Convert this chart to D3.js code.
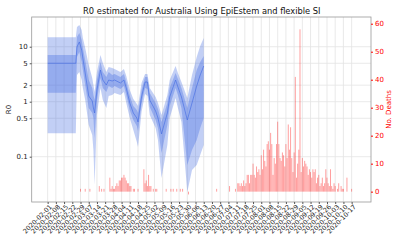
<!DOCTYPE html>
<html lang="en">
<head>
<meta charset="UTF-8">
<title>R0 estimated for Australia</title>
<script src="https://cdn.jsdelivr.net/npm/d3@7"></script>
<style>
  body { margin: 0; background: #fff; }
  text { font-family: "DejaVu Sans", sans-serif; }
</style>
</head>
<body>
<script>

var w = 400, h = 250;
var plotL = 31.7, plotR = 371, plotT = 17, plotB = 202;

// R estimates (median, 50% band, 95% band)
var rDates = ["2020-02-01","2020-02-25","2020-02-26","2020-02-28","2020-03-01","2020-03-02","2020-03-04",
  "2020-03-07","2020-03-10","2020-03-11","2020-03-12","2020-03-14","2020-03-17","2020-03-19","2020-03-22",
  "2020-03-24","2020-03-27","2020-03-29","2020-04-03","2020-04-06","2020-04-08","2020-04-11","2020-04-14",
  "2020-04-17","2020-04-18","2020-04-21","2020-04-24","2020-04-26","2020-04-28","2020-05-03","2020-05-05",
  "2020-05-08","2020-05-13","2020-05-15","2020-05-20","2020-05-22","2020-05-25","2020-05-30","2020-06-03",
  "2020-06-07","2020-06-10","2020-06-13"];
var rMedian = [5.0,5.0,9.9,12.2,8.7,6.2,3.32,1.27,1.03,0.768,0.623,1.63,3.77,2.48,2.01,2.48,2.38,2.48,2.19,2.48,
  1.77,0.947,0.623,0.505,0.428,1.22,2.28,2.28,1.07,0.677,0.505,0.259,0.623,1.22,2.48,1.85,1.22,0.465,0.947,
  1.93,3.06,4.46];
var rHi50 = [7.06,7.06,15.0,17.7,13.2,9.5,5.7,2.48,1.77,1.32,1.07,2.48,5.3,3.47,2.81,3.47,3.06,3.19,2.81,3.19,
  2.28,1.27,0.835,0.706,0.623,1.63,2.81,2.81,1.44,0.947,0.737,0.428,0.947,1.77,3.32,2.59,1.77,0.768,1.77,
  3.77,5.3,6.8];
var rLo50 = [1.46,1.46,6.5,8.0,5.3,3.77,2.01,0.768,0.623,0.505,0.219,1.07,2.70,1.77,1.50,1.93,1.77,1.93,1.70,1.93,
  1.32,0.706,0.465,0.362,0.293,0.908,1.77,1.70,0.80,0.465,0.332,0.117,0.377,0.835,1.77,1.32,0.768,0.0706,0.132,
  0.201,0.332,0.505];
var rHi95 = [14.8,14.8,22.8,24.8,20.1,14.4,9.5,4.65,2.70,2.01,1.50,3.47,7.06,5.05,3.47,4.27,4.1,3.93,3.47,3.93,
  2.93,1.63,1.12,0.908,0.835,2.19,3.19,3.19,1.77,1.22,0.947,0.573,1.32,2.48,4.46,3.32,2.28,1.17,3.06,
  6.5,10.3,14.4];
var rLo95 = [0.266,0.266,3.06,3.47,2.48,1.77,1.07,0.377,0.248,0.132,0.0306,0.573,1.77,1.07,0.768,1.27,1.32,1.44,1.32,1.50,
  0.947,0.505,0.306,0.185,0.150,0.65,1.38,1.27,0.573,0.332,0.201,0.041,0.163,0.505,1.17,0.768,0.428,0.0228,0.0573,
  0.0706,0.107,0.163];

// daily deaths starting 2020-02-29
var deathStart = "2020-02-29";
var deaths = [
  1,0,0,0,1,0,0,0,1,0,
  0,0,0,0,0,0,2,0,1,0,
  1,0,0,0,0,5,1,2,1,1,
  2,3,2,4,4,5,5,6,5,4,
  3,3,2,2,0,1,1,0,0,1,
  0,0,0,0,8,3,4,2,6,2,
  2,0,1,0,1,1,0,0,0,0,
  0,0,0,1,0,0,0,1,0,1,
  0,0,1,0,0,1,0,1,0,0,
  0,0,-1,0,0,0,0,0,0,0,
  0,0,0,0,0,0,0,0,0,0,
  0,0,0,0,0,0,1,0,0,0,
  0,0,0,0,0,0,0,2,0,0,
  0,0,1,0,3,3,2,3,2,4,
  2,3,6,6,3,6,6,10,6,5,
  9,7,8,6,13,8,15,11,9,17,
  18,15,21,17,6,12,10,17,25,17,
  12,11,14,13,9,17,12,24,15,23,
  12,7,14,41,5,10,15,58,7,12,
  9,11,10,9,6,8,7,5,8,7,
  8,3,5,6,2,3,5,2,3,8,
  5,3,2,8,2,1,3,2,0,1,
  3,0,2,1,1,0,0,5,0,0,
  0,1,0];

var xTickLabels = ["2020-02-01","2020-02-08","2020-02-15","2020-02-22","2020-02-29","2020-03-07","2020-03-14",
  "2020-03-21","2020-03-28","2020-04-04","2020-04-11","2020-04-18","2020-04-25","2020-05-02","2020-05-09",
  "2020-05-16","2020-05-23","2020-05-30","2020-06-06","2020-06-13","2020-06-20","2020-06-27","2020-07-04",
  "2020-07-11","2020-07-18","2020-07-25","2020-08-01","2020-08-08","2020-08-15","2020-08-22","2020-08-29",
  "2020-09-05","2020-09-12","2020-09-19","2020-09-26","2020-10-03","2020-10-10","2020-10-17"];
var rTicks = [0.1, 0.5, 1, 2, 5, 10];
var deathTicks = [0, 10, 20, 30, 40, 50, 60];

var parse = d3.utcParse("%Y-%m-%d");
var dayMs = 864e5;

var x = d3.scaleUtc()
    .domain([new Date(Date.UTC(2020, 0, 18, 10)), new Date(Date.UTC(2020, 10, 2, 12))])
    .range([plotL, plotR]);
var y = d3.scaleLog().domain([0.015, 34.7]).range([plotB, plotT]);
var y2 = d3.scaleLinear().domain([-3.7, 62.4]).range([plotB, plotT]);

var svg = d3.select("body").append("svg")
    .attr("width", w)
    .attr("height", h);

var xTicks = xTickLabels.map(parse);

// grid
svg.append("g").selectAll("line")
    .data(xTicks).enter().append("line")
    .attr("x1", function(d) { return x(d); })
    .attr("x2", function(d) { return x(d); })
    .attr("y1", plotT).attr("y2", plotB)
    .attr("stroke", "#e3e3e3").attr("stroke-width", 0.8);
svg.append("g").selectAll("line")
    .data(rTicks).enter().append("line")
    .attr("x1", plotL).attr("x2", plotR)
    .attr("y1", function(d) { return y(d); })
    .attr("y2", function(d) { return y(d); })
    .attr("stroke", "#e3e3e3").attr("stroke-width", 0.8);

// R bands
var rData = rDates.map(function(d, i) {
    return {date: parse(d), med: rMedian[i], lo50: rLo50[i], hi50: rHi50[i], lo95: rLo95[i], hi95: rHi95[i]};
});

svg.append("path").datum(rData)
    .attr("fill", "royalblue").attr("fill-opacity", 0.32)
    .attr("d", d3.area()
        .x(function(d) { return x(d.date); })
        .y0(function(d) { return y(d.lo95); })
        .y1(function(d) { return y(d.hi95); }));
svg.append("path").datum(rData)
    .attr("fill", "royalblue").attr("fill-opacity", 0.35)
    .attr("d", d3.area()
        .x(function(d) { return x(d.date); })
        .y0(function(d) { return y(d.lo50); })
        .y1(function(d) { return y(d.hi50); }));
svg.append("path").datum(rData)
    .attr("fill", "none").attr("stroke", "royalblue").attr("stroke-opacity", 0.6)
    .attr("stroke-width", 1)
    .attr("d", d3.line()
        .x(function(d) { return x(d.date); })
        .y(function(d) { return y(d.med); }));

// deaths bars
var d0 = parse(deathStart);
var barW = (x(new Date(+d0 + dayMs)) - x(d0)) * 0.8;
svg.append("g").selectAll("rect")
    .data(deaths).enter().append("rect")
    .attr("x", function(d, i) { return x(new Date(+d0 + i * dayMs)) - barW / 2; })
    .attr("width", barW)
    .attr("y", function(d) { return y2(Math.max(d, 0)); })
    .attr("height", function(d) { return Math.abs(y2(d) - y2(0)); })
    .attr("fill", "red").attr("fill-opacity", 0.4);

// frame
svg.append("rect")
    .attr("x", plotL).attr("y", plotT)
    .attr("width", plotR - plotL).attr("height", plotB - plotT)
    .attr("fill", "none").attr("stroke", "#999").attr("stroke-width", 0.8);

// axes
var gy = svg.append("g").attr("transform", "translate(" + plotL + ",0)")
    .call(d3.axisLeft(y).tickValues(rTicks).tickFormat(d3.format("")).tickSize(2).tickPadding(2));
var gy2 = svg.append("g").attr("transform", "translate(" + plotR + ",0)")
    .call(d3.axisRight(y2).tickValues(deathTicks).tickSize(2).tickPadding(2));
var gx = svg.append("g").attr("transform", "translate(0," + plotB + ")")
    .call(d3.axisBottom(x).tickValues(xTicks).tickFormat(d3.utcFormat("%Y-%m-%d")).tickSize(2).tickPadding(1));

[gy, gy2, gx].forEach(function(g) {
    g.select(".domain").remove();
    g.selectAll("text").attr("font-family", "DejaVu Sans");
});
gy.selectAll("line").attr("stroke", "#555");
gy.selectAll("text").attr("font-size", "7px").attr("fill", "#222");
gy2.selectAll("line").attr("stroke", "red");
gy2.selectAll("text").attr("font-size", "7px").attr("fill", "red");
gx.selectAll("line").attr("stroke", "#555");
gx.selectAll("text")
    .attr("font-size", "6.5px").attr("fill", "#222")
    .attr("text-anchor", "end")
    .attr("x", 0).attr("y", 0).attr("dy", "0.7em")
    .attr("transform", "translate(1,2) rotate(-45)");

// titles
svg.append("text")
    .attr("x", (plotL + plotR) / 2 + 0.5).attr("y", 14)
    .attr("text-anchor", "middle").attr("font-size", "8.3px").attr("fill", "#111")
    .text("R0 estimated for Australia Using EpiEstem and flexible SI");
svg.append("text")
    .attr("transform", "translate(11," + ((plotT + plotB) / 2) + ") rotate(-90)")
    .attr("text-anchor", "middle").attr("font-size", "7px").attr("fill", "#222")
    .text("R0");
svg.append("text")
    .attr("transform", "translate(391," + ((plotT + plotB) / 2) + ") rotate(-90)")
    .attr("text-anchor", "middle").attr("font-size", "7px").attr("fill", "red")
    .text("No. Deaths");

</script>
</body>
</html>
